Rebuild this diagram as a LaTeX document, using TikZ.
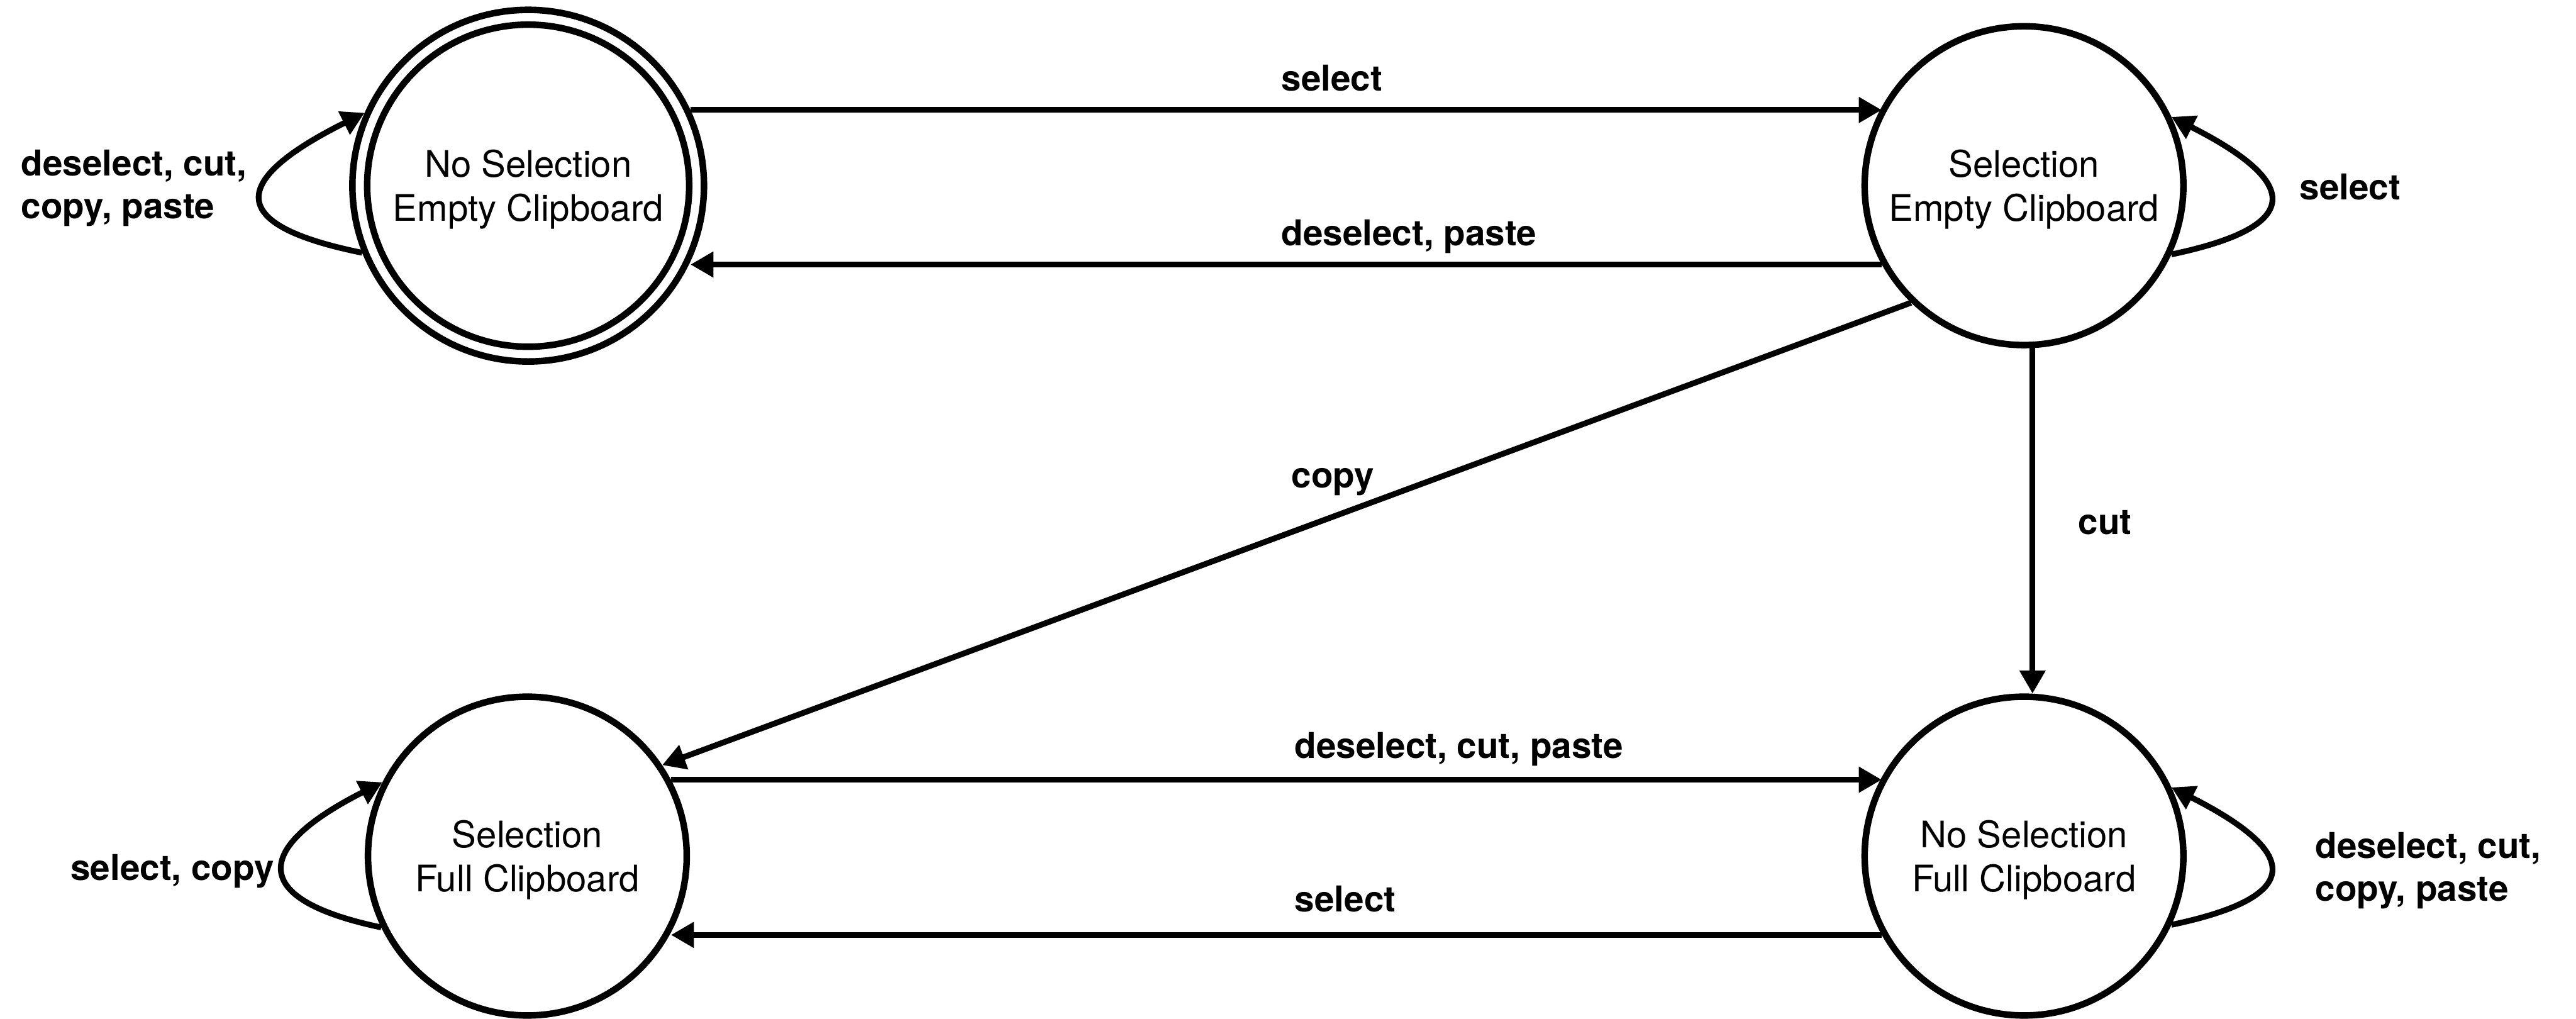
\documentclass[tikz,border=0pt]{standalone}
\usepackage{fontspec}
\setmainfont{TeX Gyre Heros}
\usetikzlibrary{arrows.meta}
\newcommand{\topstrut}{\rule{0pt}{18pt}}
\begin{document}
\begin{tikzpicture}[x=0.03cm, y=-0.03cm,
  state/.style={circle, draw, line width=3.4pt, minimum size=5.82cm, inner sep=0pt,
    align=center, font=\fontsize{19}{23}\selectfont},
  ring/.style={line width=3.4pt},
  edge/.style={line width=3.0pt, -{Triangle[length=0.42cm, width=0.45cm]}},
  lbl/.style={inner sep=0pt, anchor=base west, align=left,
    font=\bfseries\fontsize{18.5}{22.2}\selectfont}]
\useasboundingbox (0,0) rectangle (1568,620);

% states
\node[state, minimum size=6.42cm] (TL) at (321.5,113) {\topstrut No Selection\\Empty Clipboard};
\draw[ring] (TL.center) circle[radius=2.94cm];
\node[state] (TR) at (1232,113) {\topstrut Selection\\Empty Clipboard};
\node[state] (BL) at (321,521) {\topstrut Selection\\Full Clipboard};
\node[state] (BR) at (1232,521) {\topstrut No Selection\\Full Clipboard};

% transitions
\draw[edge] (TL.25.8) -- (TL.25.8 -| TR.151.4);
\draw[edge] (TR.-151.4) -- (TR.-151.4 -| TL.-25.8);
\draw[edge] (TR.-134.5) -- (BL.34.6);
\draw[edge] (TR.-87) -- (TR.-87 |- BR.87);
\draw[edge] (BL.28.8) -- (BL.28.8 -| BR.151.2);
\draw[edge] (BR.-151.2) -- (BR.-151.2 -| BL.-28.8);

% self loops
\draw[edge] (TL.-158) .. controls +(-84,-17) and +(-82,41) .. (TL.156);
\draw[edge] (TR.-25) .. controls +(81,-17) and +(79,40) .. (TR.25);
\draw[edge] (BL.-154.6) .. controls +(-81,-17) and +(-79,40) .. (BL.153.8);
\draw[edge] (BR.-25) .. controls +(81,-17) and +(79,40) .. (BR.25);

% labels
\node[lbl] (l1) at (779.8,55.4) {select};
\node[lbl] (l2) at (779.8,149.5) {deselect, paste};
\node[lbl] (l3) at (786,297) {copy};
\node[lbl] (l4) at (1264.8,325.3) {cut};
\node[lbl] (l5) at (787.9,461.6) {deselect, cut, paste};
\node[lbl] (l6) at (787.9,555) {select};
\node[lbl] (l7) at (12.7,133) {deselect, cut,\\copy, paste};
\node[lbl] (l8) at (1399.6,121.4) {select};
\node[lbl] (l9) at (42.8,535.6) {select, copy};
\node[lbl] (l10) at (1409.1,548.5) {deselect, cut,\\copy, paste};
\end{tikzpicture}
\end{document}
